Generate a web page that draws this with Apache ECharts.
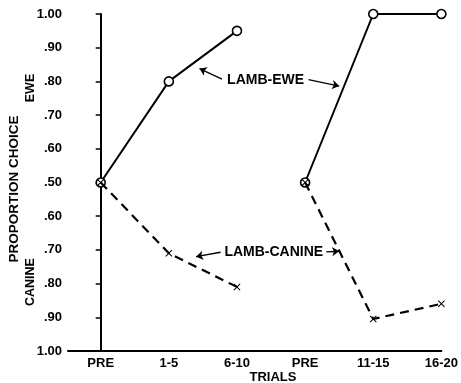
<!DOCTYPE html>
<html><head><meta charset="utf-8">
<script src="https://cdn.jsdelivr.net/npm/echarts@6/dist/echarts.min.js"></script>
<style>html,body{margin:0;padding:0;background:#fff}#c{width:461px;height:383px}</style>
</head><body><div id="c"></div>
<script>
// Categories (trial blocks) and values as proportion choosing EWE (canine = 1 - value)
const categories = ['PRE', '1-5', '6-10', 'PRE', '11-15', '16-20'];
const lambEwe = [0.50, 0.80, 0.95, 0.50, 1.00, 1.00];
const lambCanine = [0.50, 0.29, 0.19, 0.50, 0.095, 0.14]; // canine .71, .81, .905, .86
const segments = [[0, 2], [3, 5]];

const font = 'Liberation Sans';
const chart = echarts.init(document.getElementById('c'));

function seg(arr, s) {
  const out = [];
  for (let i = s[0]; i <= s[1]; i++) out.push([i, arr[i]]);
  return out;
}
const xSym = 'path://M0,1L1,0L5,4L9,0L10,1L6,5L10,9L9,10L5,6L1,10L0,9L4,5Z';

const series = [];
segments.forEach(s => {
  series.push({
    type: 'line', data: seg(lambEwe, s), symbol: 'circle', symbolSize: 9,
    lineStyle: { color: '#000', width: 2 },
    itemStyle: { color: '#fff', borderColor: '#000', borderWidth: 1.6 }, z: 3
  });
});
segments.forEach(s => {
  series.push({
    type: 'line', data: seg(lambCanine, s), symbol: xSym, symbolSize: 7,
    lineStyle: { color: '#000', width: 2.2, type: [9, 6] },
    itemStyle: { color: '#000' }, z: 4
  });
});
// annotations
const arrowStyle = { color: '#000', width: 1.3, type: 'solid' };
series.push({
  type: 'line', data: [], silent: true,
  markLine: {
    silent: true, symbol: ['none', 'arrow'], symbolSize: 7, label: { show: false },
    lineStyle: arrowStyle, animation: false,
    data: [
      [{ coord: [1.78, 0.807] }, { coord: [1.45, 0.838] }],
      [{ coord: [3.05, 0.805] }, { coord: [3.50, 0.786] }],
      [{ coord: [1.76, 0.293] }, { coord: [1.40, 0.280] }],
      [{ coord: [3.31, 0.294] }, { coord: [3.50, 0.296] }]
    ]
  },
  markPoint: {
    silent: true, symbol: 'circle', symbolSize: 0, animation: false,
    label: { show: true, position: 'inside', color: '#000', fontFamily: font, fontSize: 14, fontWeight: 'bold' },
    data: [
      { coord: [2.42, 0.805], value: 'LAMB-EWE', label: { formatter: 'LAMB-EWE' } },
      { coord: [2.54, 0.293], value: 'LAMB-CANINE', label: { formatter: 'LAMB-CANINE' } }
    ]
  }
});

chart.setOption({
  animation: false,
  backgroundColor: '#fff',
  grid: { left: 68, right: 18, top: 14, bottom: 32 },
  xAxis: {
    type: 'value', min: -0.48, max: 5,
    splitLine: { show: false },
    axisLine: { show: true, lineStyle: { color: '#000', width: 2 } },
    axisTick: { show: false },
    axisLabel: {
      color: '#000', fontFamily: font, fontSize: 13, fontWeight: 'bold', margin: 6,
      customValues: [0, 1, 2, 3, 4, 5],
      formatter: v => { const i = Math.round(v); return categories[i] || ''; }
    }
  },
  yAxis: {
    type: 'value', min: 0, max: 1, interval: 0.1,
    splitLine: { show: false },
    axisLine: { show: true, lineStyle: { color: '#000', width: 2 } },
    axisTick: { show: true, length: 5, lineStyle: { color: '#000', width: 1.5 } },
    axisLabel: {
      color: '#000', fontFamily: font, fontSize: 13, fontWeight: 'bold', margin: 6,
      formatter: v => {
        const r = Math.round(v * 100);
        if (r === 0 || r === 100) return '1.00';
        const p = r >= 50 ? r : 100 - r;
        return '.' + String(p).padStart(2, '0');
      }
    }
  },
  graphic: [
    { type: 'text', x: 14, y: 189, rotation: Math.PI / 2, style: { text: 'PROPORTION CHOICE', fill: '#000', font: 'bold 13.5px "Liberation Sans"', align: 'center', verticalAlign: 'middle' } },
    { type: 'text', x: 31, y: 88, rotation: Math.PI / 2, style: { text: 'EWE', fill: '#000', font: 'bold 12.5px "Liberation Sans"', align: 'center', verticalAlign: 'middle' } },
    { type: 'text', x: 31, y: 282, rotation: Math.PI / 2, style: { text: 'CANINE', fill: '#000', font: 'bold 12.5px "Liberation Sans"', align: 'center', verticalAlign: 'middle' } },
    { type: 'text', x: 273, y: 377, style: { text: 'TRIALS', fill: '#000', font: 'bold 13px "Liberation Sans"', align: 'center', verticalAlign: 'middle' } }
  ],
  series: series
});
</script></body></html>
